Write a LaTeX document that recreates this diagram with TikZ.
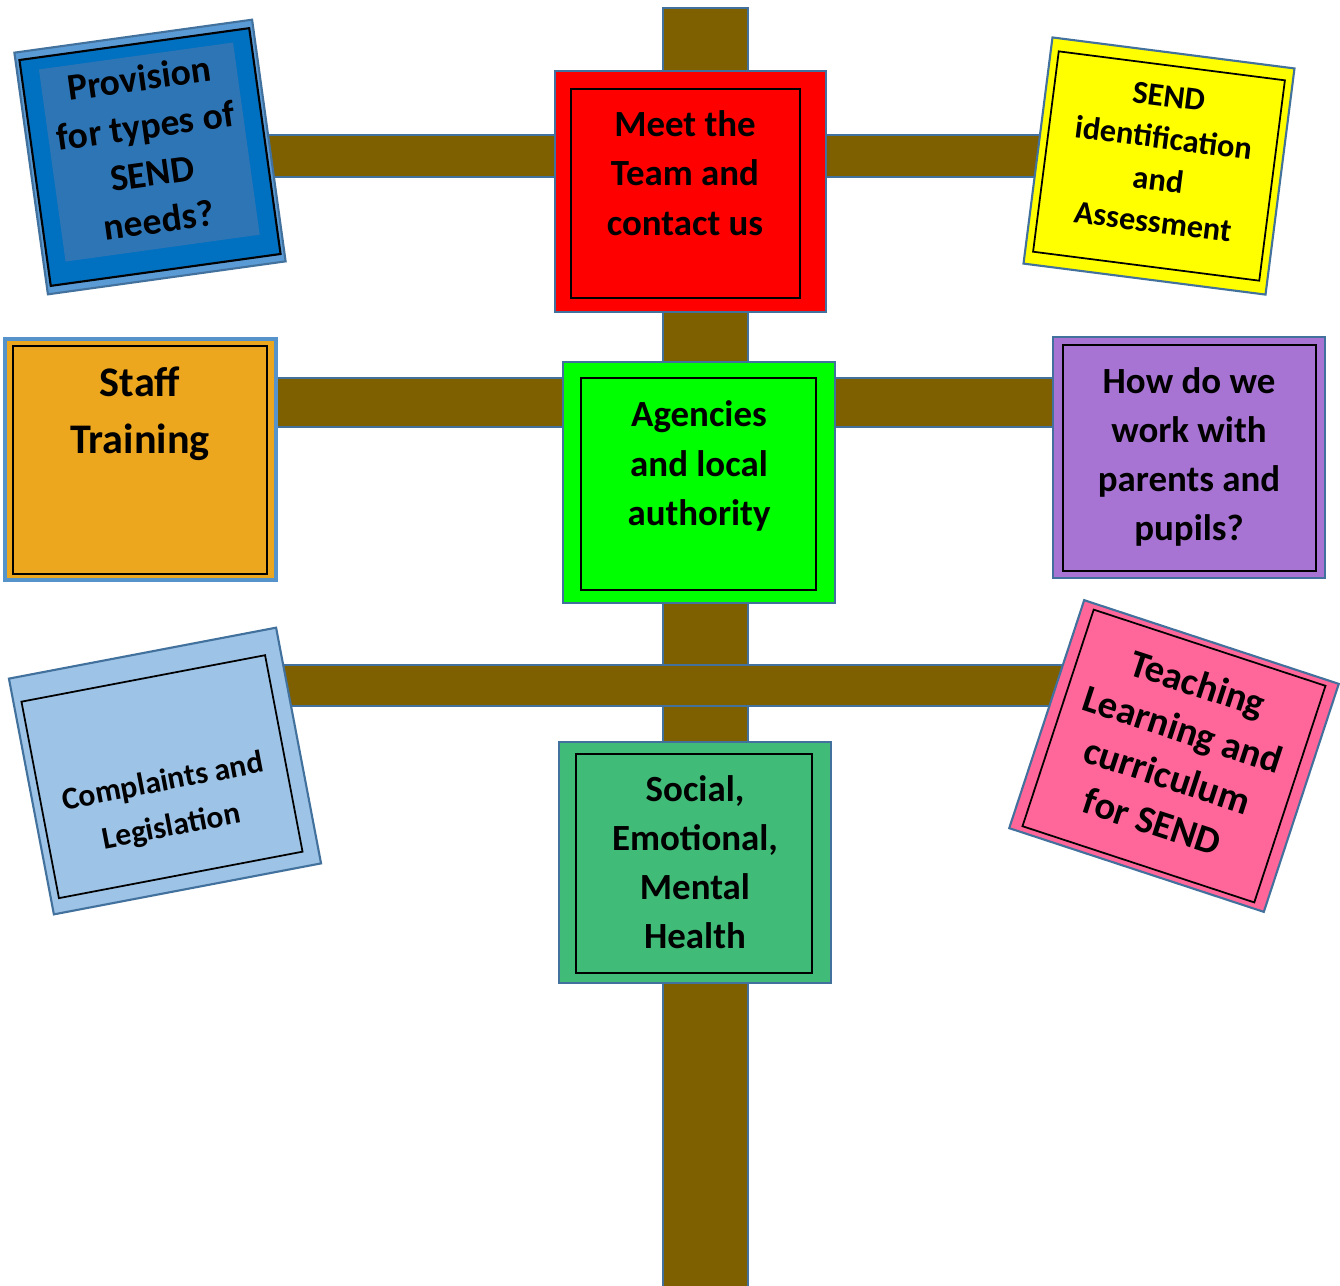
\documentclass[tikz,border=0pt]{standalone}
\usepackage{fontspec}
\setmainfont{Carlito}
\definecolor{postbrown}{HTML}{7F6000}
\definecolor{edgeblue}{HTML}{41719C}
\definecolor{signred}{HTML}{FF0000}
\definecolor{signgreen}{HTML}{00FF00}
\definecolor{signsea}{HTML}{40BB78}
\definecolor{signpurple}{HTML}{A874D4}
\definecolor{signorange}{HTML}{EDA71E}
\definecolor{signyellow}{HTML}{FFFF00}
\definecolor{signpink}{HTML}{FF6699}
\definecolor{signsky}{HTML}{9DC3E6}
\definecolor{provband}{HTML}{5B9BD5}
\definecolor{provblue}{HTML}{0070C0}
\definecolor{provinner}{HTML}{2E75B6}

\begin{document}
\begin{tikzpicture}[x=0.1mm, y=-0.1mm,
	postbar/.style={fill=postbrown, draw=edgeblue, line width=0.5pt},
	signbox/.style={draw=edgeblue, line width=0.6pt},
	signline/.style={draw=black, line width=0.5pt},
	signtext/.style={align=center, text=black, font=\bfseries\fontsize{10.5}{14}\selectfont}]
	\useasboundingbox (0,0) rectangle (1340,1285);
	% post and cross bars
	\draw[postbar] (663,8) rectangle (748,1300);
	\draw[postbar] (250,135) rectangle (1060,177);
	\draw[postbar] (250,378) rectangle (1070,427);
	\draw[postbar] (270,665) rectangle (1080,706);
	% signs on the post
	\draw[signbox, fill=signred] (555,71) rectangle (826,312);
	\draw[signline] (571,89) rectangle (800,298);
	\node[signtext] (team) at (685,173) {Meet the\\Team and\\contact us};
	\draw[signbox, fill=signgreen] (563,362) rectangle (835,603);
	\draw[signline] (581,378) rectangle (816,590);
	\node[signtext] (agencies) at (699,466) {Agencies\\and local\\authority};
	\draw[signbox, fill=signsea] (559,742) rectangle (831,983);
	\draw[signline] (576,754) rectangle (812,973);
	\node[signtext] (semh) at (695,862) {Social,\\Emotional,\\Mental\\Health};
	% left and right signs
	\draw[signbox, line width=0.9pt, draw=provband!80!edgeblue, fill=signorange] (5,339) rectangle (276,580);
	\draw[signline, line width=0.8pt] (13,346) rectangle (267,574);
	\node[signtext, font=\bfseries\fontsize{12}{16.2}\selectfont] (staff) at (140,414) {Staff\\Training};
	\draw[signbox, fill=signpurple] (1053,337) rectangle (1325,578);
	\draw[signline] (1063,345) rectangle (1316,571);
	\node[signtext] (parents) at (1189,457) {How do we\\work with\\parents and\\pupils?};
	% tilted signs
	\begin{scope}[shift={(150,157)}, rotate=7.9, transform shape]
		\draw[signbox, fill=provband] (-120,-122) rectangle (120,122);
		\draw[signline, line width=0.6pt, fill=provblue] (-116,-114) rectangle (116,114);
		\fill[provinner] (-98,-102) rectangle (98,92);
		\node[signtext, font=\bfseries\fontsize{10.7}{13.6}\selectfont] (provision) at (0,-8) {Provision\\for types of\\SEND\\needs?};
	\end{scope}
	\begin{scope}[shift={(1159,166)}, rotate=-7.3, transform shape]
		\draw[signbox, fill=signyellow] (-122,-114) rectangle (122,114);
		\draw[signline] (-114,-101) rectangle (114,101);
		\node[signtext, font=\bfseries\fontsize{9.2}{12}\selectfont] (identify) at (1,-7) {SEND\\identification\\and\\Assessment};
	\end{scope}
	\begin{scope}[shift={(165,771)}, rotate=10.8, transform shape]
		\draw[signbox, fill=signsky] (-136,-120) rectangle (136,120);
		\draw[signline] (-128,-95) rectangle (120,105);
		\node[signtext, font=\bfseries\fontsize{9}{13}\selectfont] (complaints) at (-4,34) {Complaints and\\Legislation};
	\end{scope}
	\begin{scope}[shift={(1174,756)}, rotate=-18.2, transform shape]
		\draw[signbox, fill=signpink] (-134,-120) rectangle (134,120);
		\draw[signline] (-122,-114) rectangle (122,114);
		\node[signtext, font=\bfseries\fontsize{11}{13.8}\selectfont] (teaching) at (0,-4) {Teaching\\Learning and\\curriculum\\for SEND};
	\end{scope}
\end{tikzpicture}
\end{document}
